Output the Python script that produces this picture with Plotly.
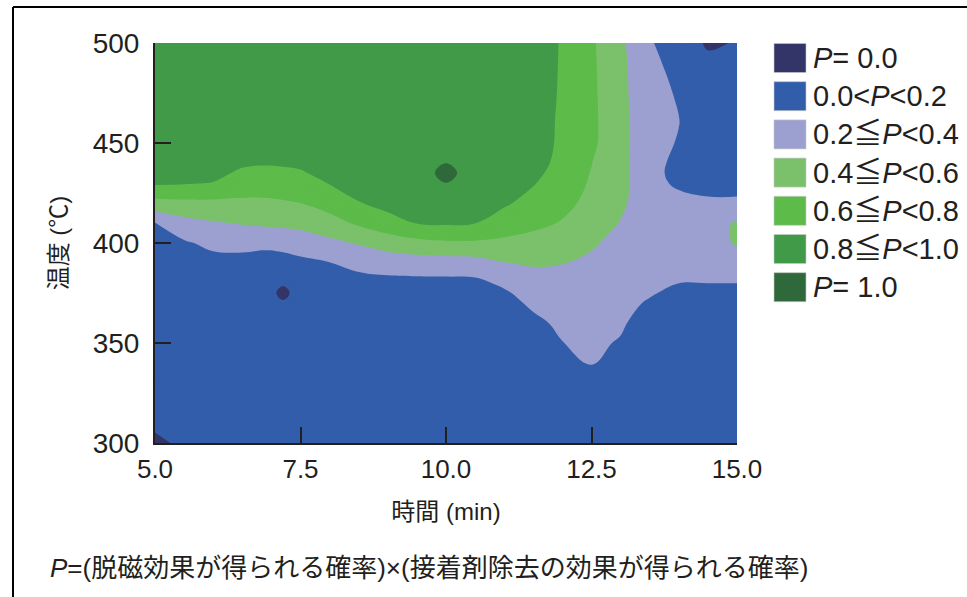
import plotly.graph_objects as go

# ---------------- data ----------------
TIME_MIN = [5.0, 5.5, 6.0, 6.5, 6.9, 7.2, 7.5, 8.0, 8.5, 9.0, 9.5,
            10.0, 10.5, 11.0, 11.5, 12.0, 12.5, 13.0, 13.5, 14.0, 14.5, 15.0]
TEMP_C = [300, 320, 340, 350, 360, 370, 375, 380, 390, 400, 410, 420,
          430, 435, 440, 450, 460, 475, 490, 500]

# P value at each (temperature row, time column)
P_300 = [0.00, 0.04, .11, .11, .11, .11, .11, .11, .11, .11, .11, .11, .11, .11, .11, .11, .11, .11, .11, .11, .11, .11]
P_320 = [0.08, .11, .11, .11, .11, .11, .11, .11, .11, .11, .11, .11, .11, .11, .11, .11, .11, .11, .11, .11, .11, .11]
P_340 = [.11, .11, .11, .11, .11, .11, .11, .11, .11, .11, .11, .11, .11, .11, .11, .11, 0.205, .11, .11, .11, .11, .11]
P_350 = [.11, .11, .11, .11, .11, .11, .11, .11, .11, .11, .11, .11, .11, .11, .11, 0.1975, 0.239, 0.185, .11, .11, .11, .11]
P_360 = [.11, .11, .11, .11, .11, .11, .11, .11, .11, .11, .11, .11, .11, .11, 0.15, 0.2475, 0.273, 0.227, .11, .11, .11, .11]
P_370 = [.11, .11, .11, .11, .11, 0.03, .11, .11, .11, .11, .11, .11, .11, 0.123, 0.243, 0.2975, 0.307, 0.26, 0.18, .11, .11, .11]
P_375 = [.11, .11, .11, .11, 0.055, 0.00, 0.055, .11, .11, .11, .11, .11, 0.115, 0.173, 0.285, 0.322, 0.324, 0.277, 0.22, 0.15, 0.14, 0.14]
P_380 = [.11, .11, .11, .11, .11, 0.03, .11, .11, 0.135, 0.148, 0.15, 0.15, 0.155, 0.237, 0.328, 0.3475, 0.341, 0.294, 0.24, 0.202, 0.202, 0.202]
P_390 = [.11, .11, 0.135, 0.137, 0.122, 0.13, 0.155, 0.195, 0.255, 0.284, 0.30, 0.309, 0.325, 0.395, 0.418, 0.405, 0.375, 0.327, 0.27, 0.25, 0.28, 0.32]
P_400 = [.11, 0.177, 0.248, 0.258, 0.246, 0.263, 0.298, 0.356, 0.418, 0.492, 0.543, 0.571, 0.574, 0.56, 0.539, 0.493, 0.418, 0.36, 0.29, 0.28, 0.32, 0.42]
P_410 = [0.193, 0.336, 0.386, 0.415, 0.436, 0.447, 0.461, 0.529, 0.632, 0.726, 0.81, 0.828, 0.805, 0.703, 0.643, 0.59, 0.489, 0.394, 0.30, 0.29, 0.32, 0.42]
P_420 = [0.54, 0.556, 0.559, 0.565, 0.569, 0.582, 0.602, 0.68, 0.792, 0.865, 0.89, 0.89, 0.89, 0.83, 0.728, 0.643, 0.56, 0.43, 0.305, 0.286, 0.225, 0.225]
P_430 = [0.83, 0.817, 0.795, 0.703, 0.695, 0.705, 0.722, 0.81, 0.885, 0.89, 0.89, 0.9805, 0.89, 0.89, 0.815, 0.69, 0.583, 0.45, 0.29, 0.154, 0.15, 0.15]
P_435 = [0.88, 0.867, 0.85, 0.77, 0.757, 0.766, 0.782, 0.86, 0.89, 0.89, 0.95, 1.00, 0.95, 0.89, 0.865, 0.694, 0.594, 0.45, 0.29, 0.117, 0.12, 0.12]
P_440 = [0.89, 0.89, 0.89, 0.828, 0.815, 0.822, 0.835, 0.89, 0.89, 0.89, 0.89, 0.9805, 0.89, 0.89, 0.89, 0.733, 0.605, 0.45, 0.294, 0.132, 0.12, 0.12]
P_450 = [0.89, 0.89, 0.89, 0.89, 0.89, 0.89, 0.89, 0.89, 0.89, 0.89, 0.89, 0.89, 0.89, 0.89, 0.89, 0.765, 0.64, 0.455, 0.28, 0.187, 0.12, 0.12]
P_460 = [0.89, 0.89, 0.89, 0.89, 0.89, 0.89, 0.89, 0.89, 0.89, 0.89, 0.89, 0.89, 0.89, 0.89, 0.89, 0.77, 0.645, 0.455, 0.28, 0.205, 0.12, 0.11]
P_475 = [0.89, 0.89, 0.89, 0.89, 0.89, 0.89, 0.89, 0.89, 0.89, 0.89, 0.89, 0.89, 0.89, 0.89, 0.89, 0.78, 0.64, 0.45, 0.27, 0.1825, 0.11, 0.11]
P_490 = [0.89, 0.89, 0.89, 0.89, 0.89, 0.89, 0.89, 0.89, 0.89, 0.89, 0.89, 0.89, 0.89, 0.89, 0.89, 0.785, 0.635, 0.445, 0.26, 0.12, 0.057, 0.11]
P_500 = [0.89, 0.89, 0.89, 0.89, 0.89, 0.89, 0.89, 0.89, 0.89, 0.89, 0.89, 0.89, 0.89, 0.89, 0.89, 0.787, 0.629, 0.439, 0.215, 0.12, 0.00, 0.03]

P_GRID = [P_300, P_320, P_340, P_350, P_360, P_370, P_375, P_380, P_390, P_400,
          P_410, P_420, P_430, P_435, P_440, P_450, P_460, P_475, P_490, P_500]

X_TICKS = [5.0, 7.5, 10.0, 12.5, 15.0]
X_TICK_LABELS = ["5.0", "7.5", "10.0", "12.5", "15.0"]
Y_TICKS = [300, 350, 400, 450, 500]

BAND_EDGES = [0.02, 0.2, 0.4, 0.6, 0.8, 0.98]
BAND_COLORS = ["#333468", "#325DAA", "#9CA0D0", "#7BC06A", "#5CBB49", "#409A48", "#2F683A"]
BAND_LABELS = [
    "<i>P</i>= 0.0",
    "0.0&lt;<i>P</i>&lt;0.2",
    "0.2≦<i>P</i>&lt;0.4",
    "0.4≦<i>P</i>&lt;0.6",
    "0.6≦<i>P</i>&lt;0.8",
    "0.8≦<i>P</i>&lt;1.0",
    "<i>P</i>= 1.0",
]

X_TITLE = "時間 (min)"
Y_TITLE = "温度 (℃)"
CAPTION = "<i>P</i>=(脱磁効果が得られる確率)×(接着剤除去の効果が得られる確率)"

# ---------------- styling / layout ----------------
W, H = 967, 597
PL, PR, PT, PB = 155, 737, 43, 443          # plot-area pixel box
TXT = "#231F20"
FONT = "Liberation Sans, Arial, Noto Sans CJK JP, sans-serif"


def px_x(px):
    return (px - PL) / (PR - PL)


def px_y(py):
    return (PB - py) / (PB - PT)


# fine contour levels; discrete colour bands from the colour scale
LVL_START, LVL_END, LVL_SIZE = 0.021, 0.981, 0.02
lo = LVL_START - LVL_SIZE / 2
hi = LVL_END + LVL_SIZE / 2
colorscale = [[0.0, BAND_COLORS[0]]]
for i, e in enumerate(BAND_EDGES):
    p = (e - lo) / (hi - lo)
    colorscale.append([p, BAND_COLORS[i]])
    colorscale.append([p, BAND_COLORS[i + 1]])
colorscale.append([1.0, BAND_COLORS[-1]])

fig = go.Figure()
fig.add_trace(go.Contour(
    x=TIME_MIN, y=TEMP_C, z=P_GRID,
    contours=dict(start=LVL_START, end=LVL_END, size=LVL_SIZE,
                  coloring="fill", showlines=False),
    line=dict(width=0, smoothing=1.2),
    colorscale=colorscale,
    showscale=False,
    hoverinfo="x+y+z",
))

shapes = []
annotations = []

# legend: squares + labels
for i, (col, lab) in enumerate(zip(BAND_COLORS, BAND_LABELS)):
    cy = 58 + 38.2 * i
    shapes.append(dict(type="rect", xref="paper", yref="paper",
                       x0=px_x(774), x1=px_x(806), y0=px_y(cy + 14.5), y1=px_y(cy - 14.5),
                       fillcolor=col, line=dict(width=1, color="rgba(200,200,200,0.6)")))
    annotations.append(dict(xref="paper", yref="paper", x=px_x(811), y=px_y(cy),
                            xanchor="left", yanchor="middle", showarrow=False,
                            text=lab, font=dict(family=FONT, size=29, color=TXT)))

# caption
annotations.append(dict(xref="paper", yref="paper", x=px_x(48), y=px_y(568),
                        xanchor="left", yanchor="middle", showarrow=False,
                        text=CAPTION, font=dict(family=FONT, size=26, color=TXT)))

# open frame (left + top)
shapes.append(dict(type="line", xref="paper", yref="paper",
                   x0=px_x(13), x1=px_x(13), y0=px_y(600), y1=px_y(7),
                   line=dict(color="black", width=2)))
shapes.append(dict(type="line", xref="paper", yref="paper",
                   x0=px_x(13), x1=px_x(970), y0=px_y(7), y1=px_y(7),
                   line=dict(color="black", width=2)))

axis_common = dict(showgrid=False, zeroline=False, ticks="inside", ticklen=16,
                   tickwidth=2, tickcolor=TXT, showline=True, linecolor=TXT,
                   linewidth=2, mirror=False)

fig.update_layout(
    width=W, height=H,
    margin=dict(l=PL, r=W - PR, t=PT, b=H - PB, pad=0),
    paper_bgcolor="white", plot_bgcolor="white",
    font=dict(family=FONT, color=TXT),
    xaxis=dict(range=[5, 15], tickvals=X_TICKS, ticktext=X_TICK_LABELS,
               tickfont=dict(size=26, family=FONT, color=TXT),
               title=dict(text=X_TITLE, font=dict(size=24, family=FONT, color=TXT), standoff=20),
               ticklabelstandoff=2, **axis_common),
    yaxis=dict(range=[300, 500], tickvals=Y_TICKS,
               tickfont=dict(size=28, family=FONT, color=TXT),
               title=dict(text=Y_TITLE, font=dict(size=24, family=FONT, color=TXT), standoff=18),
               ticklabelstandoff=8, **axis_common),
    shapes=shapes,
    annotations=annotations,
    showlegend=False,
)

fig.write_html("out.html",
               config={"displayModeBar": False},
               post_script="document.body.style.margin='0';document.body.style.overflow='hidden';")
